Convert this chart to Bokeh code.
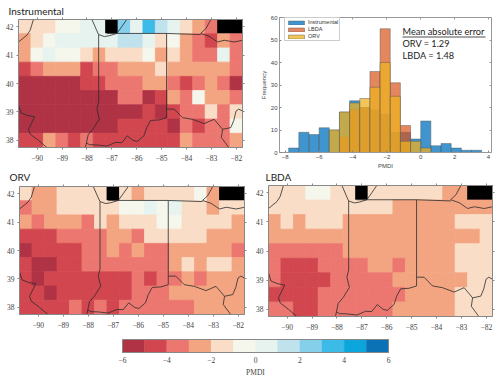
from bokeh.plotting import figure
from bokeh.layouts import column, row
from bokeh.models import LinearColorMapper, LinearAxis, FixedTicker, Label, Range1d, ColumnDataSource, Legend, LegendItem
from bokeh.transform import transform
from bokeh.embed import file_html
from bokeh.resources import INLINE

nan = float("nan")
a, b, c, d, e, f = -5.5, -4.5, -3.5, -2.5, -1.5, -0.5
g, h, i, j, k, l = 0.5, 1.5, 2.5, 3.5, 4.5, 5.5
X = nan

lons = [-90.5, -90, -89.5, -89, -88.5, -88, -87.5, -87, -86.5, -86, -85.5, -85, -84.5, -84, -83.5, -83, -82.5, -82]
lats = [42, 41.5, 41, 40.5, 40, 39.5, 39, 38.5, 38]

instrumental_grid = [
    [e, e, e, f, f, g, g, X, i, g, j, h, g, e, d, c, X, X],
    [d, e, f, g, g, g, g, g, h, h, g, e, f, d, c, b, d, c],
    [d, f, g, f, f, e, d, e, e, e, f, d, e, d, c, c, g, c],
    [b, c, d, d, d, b, c, c, d, d, d, e, d, d, d, d, d, c],
    [a, a, a, a, a, b, b, c, c, c, d, d, c, b, c, d, c, a],
    [a, a, a, a, a, a, a, a, c, c, a, b, d, c, f, d, d, c],
    [a, a, a, a, a, a, a, a, a, a, b, a, b, c, c, e, c, e],
    [a, a, a, a, a, a, a, a, b, b, b, b, a, c, b, c, c, f],
    [b, b, d, c, b, c, b, b, b, b, b, b, b, d, c, c, c, d],
]
orv_grid = [
    [e, d, d, e, e, e, e, X, e, d, e, e, e, e, f, d, X, X],
    [c, d, d, e, e, e, e, e, f, f, g, f, g, e, e, d, e, e],
    [d, c, d, d, d, c, e, d, e, e, e, f, f, e, e, e, e, d],
    [b, b, b, c, c, c, c, d, d, c, e, e, e, e, e, d, d, d],
    [a, b, b, b, b, c, c, d, c, d, c, c, d, d, d, d, d, c],
    [b, a, a, b, b, c, c, c, c, c, c, c, d, e, d, e, e, d],
    [b, a, b, b, b, b, b, b, b, c, b, c, c, d, c, d, d, d],
    [b, b, a, b, b, b, b, b, b, c, c, c, d, d, d, d, d, d],
    [b, b, b, b, c, b, c, b, c, c, c, c, c, c, d, d, d, d],
]
lbda_grid = [
    [e, e, e, f, f, e, e, X, e, e, e, e, e, e, d, d, X, X],
    [e, e, e, e, e, e, e, e, e, e, d, d, d, d, d, d, d, d],
    [d, e, d, e, e, e, d, d, d, d, d, d, d, d, d, e, e, e],
    [d, d, d, d, d, d, d, d, d, d, d, d, d, d, d, d, d, e],
    [c, c, c, c, c, c, d, d, d, d, d, d, d, d, d, e, e, e],
    [c, b, b, b, c, c, c, c, d, d, c, d, d, d, d, e, e, e],
    [c, b, b, b, b, c, c, c, c, c, d, d, d, d, d, d, e, e],
    [b, b, b, b, c, c, c, c, c, c, c, d, d, d, d, e, e, e],
    [c, c, b, b, c, c, c, c, c, c, d, d, d, d, d, e, e, e],
]

levels = [-6, -5, -4, -3, -2, -1, 0, 1, 2, 3, 4, 5, 6]
palette = ["#B03245", "#D2474F", "#EC7770", "#F3A582", "#F9DDC7", "#F5F6EC",
           "#E6F3EF", "#BFE2ED", "#85CFEA", "#3DBBE8", "#0CA5DC", "#0A72B5"]

xticks = [-90, -89, -88, -87, -86, -85, -84, -83, -82]
yticks = [38, 39, 40, 41, 42]
cbar_ticks = [-6, -4, -2, 0, 2, 4, 6]

# geography (lon, lat)
ohio_lon = [-88.06, -88.02, -87.9, -87.59, -87.2, -86.85, -86.6, -86.38, -86.15, -85.98, -85.71, -85.6, -85.44, -85.1, -84.8, -84.8, -84.5, -84.16, -83.76, -83.29, -82.89, -82.55, -82.22, -82.1, -82.01, -81.9, -81.75]
ohio_lat = [37.75, 37.91, 37.85, 37.84, 37.8, 37.93, 37.92, 38.16, 38.0, 37.96, 38.16, 38.45, 38.7, 38.72, 38.8, 39.1, 39.1, 38.8, 38.74, 38.59, 38.74, 38.39, 38.45, 38.7, 39.03, 39.1, 39.03]
wabash_lon = [-87.53, -87.6, -87.5, -87.75, -87.95, -88.02]
wabash_lat = [39.35, 39.1, 38.75, 38.4, 38.2, 37.91]
miss_lon = [-90.75, -90.65, -90.4, -90.1, -90.35, -90.28, -89.95, -89.61]
miss_lat = [39.25, 38.97, 38.88, 38.83, 38.39, 38.22, 38.0, 37.75]
upper_miss_lon = [-90.15, -90.28, -90.41, -90.75]
upper_miss_lat = [42.25, 41.875, 41.7, 41.46]
lake_mich_lon = [-87.8, -87.6, -87.53, -87.3, -87.1, -86.8, -86.6, -86.4]
lake_mich_lat = [42.25, 41.85, 41.72, 41.65, 41.68, 41.76, 42.0, 42.25]
erie_lon = [-83.02, -83.22, -83.43, -83.09, -82.75, -82.48, -82.08, -81.75]
erie_lat = [42.25, 41.93, 41.76, 41.66, 41.46, 41.52, 41.46, 41.52]
mich_line_lon = [-87.2, -84.8, -83.43]
mich_line_lat = [41.76, 41.76, 41.72]
ind_west_lon = [-87.53, -87.53]
ind_west_lat = [41.72, 39.35]
ind_east_lon = [-84.8, -84.8]
ind_east_lat = [41.76, 39.1]
ky_wv_lon = [-82.55, -82.6, -82.3]
ky_wv_lat = [38.39, 38.1, 37.75]

borders = [(ohio_lon, ohio_lat), (wabash_lon, wabash_lat), (miss_lon, miss_lat),
           (upper_miss_lon, upper_miss_lat), (lake_mich_lon, lake_mich_lat),
           (erie_lon, erie_lat), (mich_line_lon, mich_line_lat),
           (ind_west_lon, ind_west_lat), (ind_east_lon, ind_east_lat), (ky_wv_lon, ky_wv_lat)]

# histogram
hist_edges = [-7.8, -7.2, -6.6, -6.0, -5.4, -4.8, -4.2, -3.6, -3.0, -2.4, -1.8, -1.2, -0.6, 0.0, 0.6, 1.2, 1.8, 2.4, 3.0, 3.6]
hist_instrumental = [2, 9, 8, 11, 10, 18, 23, 20, 19, 17, 9, 9, 6, 14, 3, 4, 2, 1, 1]
hist_lbda = [0, 0, 0, 0, 0, 7, 19, 20, 36, 55, 31, 12, 0, 0, 0, 0, 0, 0, 0]
hist_orv = [0, 0, 0, 0, 10, 18, 22, 24, 29, 40, 25, 5, 5, 2, 0, 0, 0, 0, 0]

mapper = LinearColorMapper(palette=palette, low=-6, high=6, nan_color="#000000")
SERIF = "Liberation Serif"
SANS = "Lato"
EDGE = "#888888"


def pane(W, H, box, x_lim, y_lim):
    """A figure whose plotting frame fills it; box = data area in px (l, r, t, b) inside the figure."""
    L, R, T, B = box
    xs = (x_lim[1] - x_lim[0]) / (R - L)
    ys = (y_lim[1] - y_lim[0]) / (B - T)
    p = figure(width=W, height=H, output_backend="svg", toolbar_location=None,
               x_range=Range1d(x_lim[0] - L * xs, x_lim[1] + (W - R) * xs),
               y_range=Range1d(y_lim[0] - (H - B) * ys, y_lim[1] + T * ys),
               min_border_left=0, min_border_right=0, min_border_top=0, min_border_bottom=0,
               outline_line_color=None)
    p.grid.visible = False
    return p, (lambda px: x_lim[0] + (px - L) * xs), (lambda py: y_lim[1] - (py - T) * ys)


def blank_axis(ticks, loc, bounds, tick_in, tick_out, color=EDGE):
    return LinearAxis(ticker=FixedTicker(ticks=ticks), fixed_location=loc, bounds=bounds,
                      major_label_text_color=None, major_tick_in=tick_in, major_tick_out=tick_out,
                      minor_tick_line_color=None, axis_line_color=color, major_tick_line_color=color)


def map_panel(grid, title, W, H, box, title_x, title_y):
    xlim, ylim = (-90.75, -81.75), (37.75, 42.25)
    p, fx, fy = pane(W, H, box, xlim, ylim)
    xs, ys, vs = [], [], []
    for r, lat in enumerate(lats):
        for q, lon in enumerate(lons):
            xs.append(lon); ys.append(lat); vs.append(grid[r][q])
    src = ColumnDataSource(dict(x=xs, y=ys, v=vs))
    p.rect("x", "y", width=0.5, height=0.5, source=src,
           fill_color=transform("v", mapper), line_color=transform("v", mapper), line_width=0.8)
    for bx, by in borders:
        p.line(bx, by, line_color="#2b2b2b", line_width=0.8)
    p.xaxis[0].fixed_location = ylim[0]
    p.yaxis[0].fixed_location = xlim[0]
    p.xaxis[0].bounds = xlim
    p.yaxis[0].bounds = ylim
    for ax, ticks in ((p.xaxis[0], xticks), (p.yaxis[0], yticks)):
        ax.ticker = FixedTicker(ticks=ticks)
        ax.major_label_text_font = SERIF
        ax.major_label_text_font_size = "7.5px"
        ax.major_label_text_color = "#444444"
        ax.major_tick_in = 0
        ax.major_tick_out = 2
        ax.minor_tick_line_color = None
        ax.axis_line_color = EDGE
        ax.major_tick_line_color = EDGE
    p.xaxis[0].major_label_standoff = 5
    p.yaxis[0].major_label_standoff = 3
    p.yaxis[0].major_label_orientation = 0
    p.add_layout(blank_axis(xticks, ylim[1], xlim, 0, 2), "above")
    p.add_layout(blank_axis(yticks, xlim[1], ylim, 0, 2), "right")
    p.add_layout(Label(x=fx(title_x), y=fy(title_y), text=title, text_font=SANS, text_font_size="10px",
                       text_color="#222222", text_baseline="middle"))
    return p


p1 = map_panel(instrumental_grid, "Instrumental", 250, 168, (18, 242, 19, 147), 8, 10)
p3 = map_panel(orv_grid, "ORV", 250, 162, (19, 244, 18, 146), 9, 8)
p4 = map_panel(lbda_grid, "LBDA", 250, 162, (18, 242, 17, 148), 15, 8)

# histogram panel
hx, hy = (-8.34, 4.18), (0, 60)
p2, hfx, hfy = pane(250, 168, (29, 241, 17, 152), hx, hy)
LEFT = hist_edges[:-1]
RIGHT = hist_edges[1:]
r_i = p2.quad(left=LEFT, right=RIGHT, bottom=0, top=hist_instrumental, fill_color="#0072BD", fill_alpha=0.75,
              line_color="#555555", line_alpha=0.55, line_width=0.8)
r_l = p2.quad(left=LEFT, right=RIGHT, bottom=0, top=hist_lbda, fill_color="#D95319", fill_alpha=0.7,
              line_color="#555555", line_alpha=0.55, line_width=0.8)
r_o = p2.quad(left=LEFT, right=RIGHT, bottom=0, top=hist_orv, fill_color="#EDB120", fill_alpha=0.75,
              line_color="#555555", line_alpha=0.55, line_width=0.8)
hist_x_ticks = [-8, -6, -4, -2, 0, 2, 4]
hist_y_ticks = [0, 10, 20, 30, 40, 50, 60]
p2.xaxis[0].ticker = FixedTicker(ticks=hist_x_ticks)
p2.yaxis[0].ticker = FixedTicker(ticks=hist_y_ticks)
p2.xaxis[0].fixed_location = hy[0]
p2.yaxis[0].fixed_location = hx[0]
p2.xaxis[0].bounds = hx
p2.yaxis[0].bounds = hy
for ax in (p2.xaxis[0], p2.yaxis[0]):
    ax.major_label_text_font = "Liberation Sans"
    ax.major_label_text_font_size = "6px"
    ax.major_label_text_color = "#444444"
    ax.major_tick_in = 2
    ax.major_tick_out = 0
    ax.minor_tick_line_color = None
    ax.axis_line_color = "#999999"
    ax.major_tick_line_color = EDGE
    ax.major_label_standoff = 2
    ax.axis_label_text_font = "Liberation Sans"
    ax.axis_label_text_font_size = "6px"
    ax.axis_label_text_font_style = "normal"
    ax.axis_label_text_color = "#444444"
    ax.axis_label_standoff = 1
p2.xaxis[0].axis_label = "PMDI"
p2.yaxis[0].axis_label = "Frequency"
p2.add_layout(blank_axis(hist_x_ticks, hy[1], hx, 2, 0, "#999999"), "above")
p2.add_layout(blank_axis(hist_y_ticks, hx[1], hy, 2, 0, "#999999"), "right")
leg = Legend(items=[LegendItem(label="Instrumental", renderers=[r_i]),
                    LegendItem(label="LBDA", renderers=[r_l]),
                    LegendItem(label="ORV", renderers=[r_o])],
             location=(34, 127), label_text_font="Liberation Sans", label_text_font_size="5.5px",
             label_text_color="#333333", glyph_width=20, glyph_height=5, label_height=5,
             spacing=1, padding=1, margin=0, label_standoff=2, border_line_color="#999999",
             background_fill_alpha=1)
p2.add_layout(leg)
for txt, py in (("Mean absolute error", 31), ("ORV = 1.29", 43), ("LBDA = 1.48", 55)):
    p2.add_layout(Label(x=hfx(152), y=hfy(py), text=txt, text_font=SANS, text_font_size="9.2px",
                        text_color="#222222", text_baseline="middle"))
p2.line([hfx(152), hfx(235)], [hfy(36.5), hfy(36.5)], line_color="#222222", line_width=0.8)

# colour scale
cb, _, _ = pane(500, 49, (122, 388, 9, 22), (-6, 6), (0, 1))
cb.yaxis.visible = False
cb.quad(left=levels[:-1], right=levels[1:], bottom=0, top=1, fill_color=palette, line_color=palette, line_width=0.4)
cb.quad(left=-6, right=6, bottom=0, top=1, fill_color=None, line_color=EDGE, line_width=1)
ax = cb.xaxis[0]
ax.fixed_location = 0
ax.bounds = (-6, 6)
ax.ticker = FixedTicker(ticks=cbar_ticks)
ax.major_label_text_font = SERIF
ax.major_label_text_font_size = "7.5px"
ax.major_label_text_color = "#444444"
ax.major_tick_line_color = None
ax.minor_tick_line_color = None
ax.major_tick_in = 0
ax.major_tick_out = 0
ax.axis_line_color = EDGE
ax.major_label_standoff = 4
ax.axis_label = "PMDI"
ax.axis_label_text_font = SERIF
ax.axis_label_text_font_size = "7.5px"
ax.axis_label_text_font_style = "normal"
ax.axis_label_text_color = "#444444"
ax.axis_label_standoff = 2

root = column(row(p1, p2), row(p3, p4), cb, margin=(0, 0, 0, 0))
open("out.html", "w").write(file_html(root, INLINE))
